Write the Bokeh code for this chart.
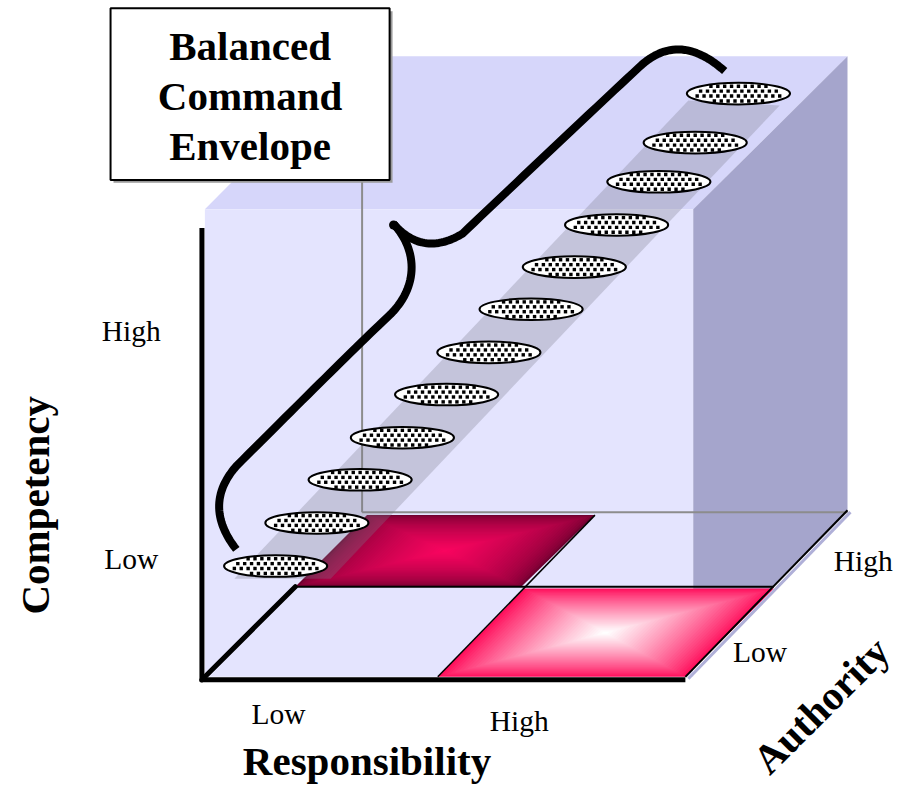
import numpy as np
from bokeh.plotting import figure
from bokeh.models import Range1d
from bokeh.core.properties import value
from bokeh.embed import file_html
from bokeh.resources import INLINE

# ---------------- data ----------------
competency_ticks = ["Low", "High"]
responsibility_ticks = ["Low", "High"]
authority_ticks = ["Low", "High"]
axis_titles = ["Competency", "Responsibility", "Authority"]
callout_lines = ["Balanced", "Command", "Envelope"]

# balanced envelope points (diagram coordinates)
env_x = [280, 322, 366, 409, 454, 497, 540, 584, 627, 670, 707, 751]
env_y = [577, 533, 489, 446, 402, 359, 315, 272, 229, 185, 145, 95]

FONT = value("Liberation Serif")

# diagram space 920 x 808, drawn into a figure that fits the window with its 8px margin
p = figure(width=904, height=792, output_backend="svg", toolbar_location=None,
           x_range=Range1d(0, 920), y_range=Range1d(808, 0),
           x_axis_location=None, y_axis_location=None, min_border=0)
p.min_border_left = p.min_border_right = p.min_border_top = p.min_border_bottom = 0
p.grid.visible = False
p.outline_line_color = None
p.background_fill_color = "white"

# ---------------- box (3D) ----------------
p.patch([208, 705, 862, 362], [213, 213, 57, 57], fill_color="#D6D6FA", line_color=None)
p.patch([208, 705, 705, 208], [213, 213, 690, 690], fill_color="#E4E4FE", line_color=None)
p.patch([705, 862, 862, 705], [213, 57, 522, 682], fill_color="#A5A5CC", line_color=None)

# back edges
p.line([368, 368], [183, 522], line_color="#8C8C8C", line_width=2)
p.line([368, 862], [522, 522], line_color="#8C8C8C", line_width=2)


def mix(c1, c2, t):
    a = [int(c1[i:i + 2], 16) for i in (1, 3, 5)]
    b = [int(c2[i:i + 2], 16) for i in (1, 3, 5)]
    return "#%02x%02x%02x" % tuple(int(round(a[i] + (b[i] - a[i]) * t)) for i in range(3))


def gradient_quad(xs, ys, c_edge, c_center, n=40, gamma=1.0):
    cx, cy = np.mean(xs), np.mean(ys)
    pxs, pys, cols = [], [], []
    for k in range(n):
        s = 1 - k / n
        pxs.append(list(cx + s * (np.array(xs) - cx)))
        pys.append(list(cy + s * (np.array(ys) - cy)))
        cols.append(mix(c_edge, c_center, (k / (n - 1)) ** gamma))
    p.patches(pxs, pys, fill_color=cols, line_color=None)


# back (high authority) cell and front (low authority) cell
gradient_quad([300, 530, 605, 373], [598, 598, 525, 525], "#700030", "#F8045F", gamma=0.55)
gradient_quad([445, 697, 787, 533], [690, 690, 600, 600], "#FF0F5C", "#FFFFFF", gamma=0.85)

# floor lines
p.line([300, 787], [598, 598], line_color="black", line_width=2)
p.line([445, 605], [690, 525], line_color="black", line_width=1.5)
p.line([700, 865], [692, 522], line_color="#B0B0D8", line_width=3)
p.line([697, 862], [690, 520], line_color="black", line_width=2)

# main axes
p.line([205, 205], [232, 695], line_color="black", line_width=5)
p.line([203, 697], [693, 693], line_color="black", line_width=5)
p.line([205, 300], [693, 598], line_color="black", line_width=5, line_cap="round")

# translucent band along envelope
p.patch([238, 336, 793, 700], [590, 590, 107, 102], fill_color="#7A7A8A", fill_alpha=0.3,
        line_color=None)

# envelope ellipses with a dotted texture
EW, EH = 105, 22
p.ellipse(env_x, env_y, width=EW, height=EH, fill_color="white",
          line_color="black", line_width=2)
dot_x, dot_y = [], []
for cx, cy in zip(env_x, env_y):
    for r, oy in enumerate(np.arange(-7.5, 8, 5)):
        shift = 0 if r % 2 == 0 else 3.5
        for ox in np.arange(-49 + shift, 50, 7):
            if (ox / (EW / 2)) ** 2 + (oy / (EH / 2)) ** 2 < 0.78:
                dot_x.append(cx + ox)
                dot_y.append(cy + oy)
p.scatter(dot_x, dot_y, marker="square", size=3.4, fill_color="black", line_color=None)


# ---------------- brace ----------------
def quad(p0, c, p1, n=30):
    t = np.linspace(0, 1, n)[:, None]
    p0, c, p1 = np.array(p0), np.array(c), np.array(p1)
    return (1 - t) ** 2 * p0 + 2 * (1 - t) * t * c + t ** 2 * p1


def cubic(p0, c1, c2, p1, n=30):
    t = np.linspace(0, 1, n)[:, None]
    p0, c1, c2, p1 = map(np.array, (p0, c1, c2, p1))
    return (1 - t) ** 3 * p0 + 3 * (1 - t) ** 2 * t * c1 + 3 * (1 - t) * t ** 2 * c2 + t ** 3 * p1


lower = np.vstack([quad((240, 560), (205, 515), (240, 475)),
                   cubic((240, 475), (300, 415), (360, 355), (397, 320)),
                   cubic((397, 320), (425, 292), (425, 255), (400, 228))])
upper = np.vstack([quad((400, 228), (430, 262), (470, 238)),
                   cubic((470, 238), (530, 181), (590, 124), (650, 68)),
                   quad((650, 68), (690, 30), (737, 72))])
p.line(lower[:, 0], lower[:, 1], line_color="black", line_width=8, line_join="round")
p.line(upper[:, 0], upper[:, 1], line_color="black", line_width=8, line_join="round")
p.scatter([400], [229], size=9, marker="circle", fill_color="black", line_color=None)

# ---------------- callout ----------------
p.patch([115, 399, 399, 115], [11, 11, 186, 186], fill_color="#9A9A9A", line_color=None)
p.patch([112, 396, 396, 112], [8, 8, 183, 183], fill_color="white", line_color="black",
        line_width=2)
p.text([254, 254, 254], [46, 97, 148], text=callout_lines, text_font=FONT,
       text_font_size="41px", text_font_style="bold", text_align="center",
       text_baseline="middle", text_color="black")

# ---------------- labels ----------------
p.text([133, 133], [570, 337], text=competency_ticks, text_font=FONT, text_font_size="29.5px",
       text_align="center", text_baseline="middle", text_color="black")
p.text([283, 528], [728, 735], text=responsibility_ticks, text_font=FONT, text_font_size="29.5px",
       text_align="center", text_baseline="middle", text_color="black")
p.text([773, 878], [665, 572], text=authority_ticks, text_font=FONT, text_font_size="29.5px",
       text_align="center", text_baseline="middle", text_color="black")

p.text([35], [515], text=[axis_titles[0]], angle=np.pi / 2, text_font=FONT,
       text_font_size="41px", text_font_style="bold", text_align="center",
       text_baseline="middle", text_color="black")
p.text([373], [776], text=[axis_titles[1]], text_font=FONT,
       text_font_size="41px", text_font_style="bold", text_align="center",
       text_baseline="middle", text_color="black")
p.text([835], [719], text=[axis_titles[2]], angle=np.pi / 4, text_font=FONT,
       text_font_size="41px", text_font_style="bold", text_align="center",
       text_baseline="middle", text_color="black")

open("out.html", "w").write(file_html(p, INLINE))
